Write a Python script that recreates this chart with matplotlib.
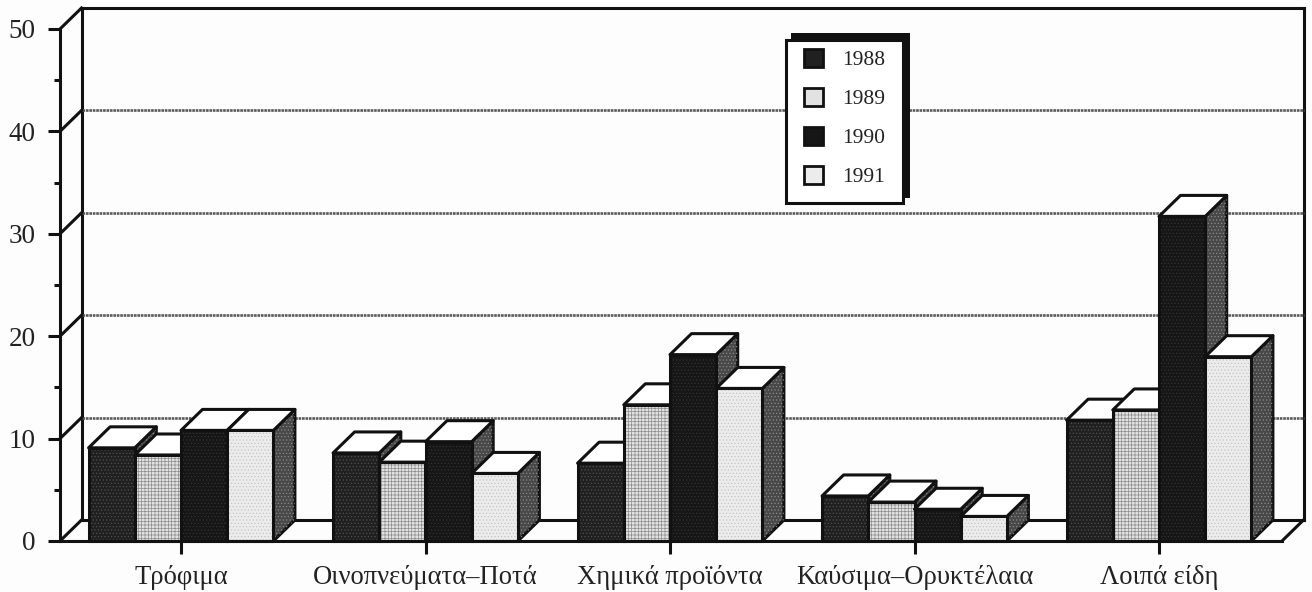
import matplotlib
matplotlib.use('Agg')
import matplotlib.pyplot as plt
from matplotlib.patches import Patch, Polygon, Rectangle

plt.rcParams['font.family'] = ['Liberation Serif', 'DejaVu Serif']
plt.rcParams['hatch.linewidth'] = 0.5

# Values
categories = ['Τρόφιμα', 'Οινοπνεύματα–Ποτά', 'Χημικά προϊόντα', 'Καύσιμα–Ορυκτέλαια', 'Λοιπά είδη']
years = ['1988', '1989', '1990', '1991']
v1988 = [9.1, 8.6, 7.6, 4.4, 11.8]
v1989 = [8.4, 7.7, 13.3, 3.8, 12.8]
v1990 = [10.8, 9.7, 18.2, 3.1, 31.7]
v1991 = [10.8, 6.6, 14.9, 2.4, 18.0]
series = [v1988, v1989, v1990, v1991]

# face colour, hatch colour, hatch for each year
styles = [('#202020', '#505050', '.....'),
          ('#e2e2e2', '#8c8c8c', '+++++'),
          ('#161616', '#333333', '.....'),
          ('#ececec', '#c4c4c4', '.....')]

W, H = 1312, 592
fig = plt.figure(figsize=(W / 100, H / 100), dpi=100, facecolor='#fdfdfd')
ax = fig.add_axes([60 / W, (H - 541) / H, 1222 / W, 512 / H])
ax.patch.set_visible(False)

x_left = (60 - 181) / 244.5
x_right = (1282 - 181) / 244.5
ax.set_xlim(x_left, x_right)
ax.set_ylim(0, 50)

# depth of the 3D box, in data units
dx = 21.5 / 244.5
dy = 2.05
bar_w = 46.2 / 244.5
lw = 2.2

# back wall, floor and gridlines
ax.plot([x_left + dx, x_right + dx], [50 + dy, 50 + dy], color='#111111', lw=lw, clip_on=False)
ax.plot([x_left + dx, x_left + dx], [dy, 50 + dy], color='#111111', lw=lw, clip_on=False)
ax.plot([x_right + dx, x_right + dx], [dy, 50 + dy], color='#111111', lw=lw, clip_on=False)
ax.plot([x_left + dx, x_right + dx], [dy, dy], color='#111111', lw=lw, clip_on=False)
ax.plot([x_right, x_right + dx], [0, dy], color='#111111', lw=lw, clip_on=False)
for v in [10, 20, 30, 40]:
    ax.plot([x_left + dx, x_right + dx], [v + dy, v + dy], color='#5a5a5a', lw=1.9, ls=(0, (1, 0.3)), clip_on=False)
for v in [0, 10, 20, 30, 40, 50]:
    ax.plot([x_left, x_left + dx], [v, v + dy], color='#111111', lw=lw, clip_on=False)

# bars, left to right so that each one covers the side of the previous
z = 5
for c in range(len(categories)):
    for s in range(len(years)):
        h = series[s][c]
        face, hatch_col, hatch = styles[s]
        x0 = c - 2 * bar_w + s * bar_w
        x1 = x0 + bar_w
        side = Polygon([(x1, 0), (x1 + dx, dy), (x1 + dx, h + dy), (x1, h)], closed=True, facecolor='#484848',
                       edgecolor='#111111', lw=lw, joinstyle='round', zorder=z, clip_on=False)
        ax.add_patch(side)
        side_tex = Polygon([(x1, 0), (x1 + dx, dy), (x1 + dx, h + dy), (x1, h)], closed=True, fill=False,
                           edgecolor='#8a8a8a', hatch='.....', lw=0, zorder=z, clip_on=False)
        ax.add_patch(side_tex)
        top = Polygon([(x0, h), (x0 + dx, h + dy), (x1 + dx, h + dy), (x1, h)], closed=True, facecolor='white',
                      edgecolor='#111111', lw=lw, joinstyle='round', zorder=z, clip_on=False)
        ax.add_patch(top)
        ax.bar(x0, h, width=bar_w, align='edge', color=face, edgecolor=hatch_col, hatch=hatch, lw=0, zorder=z,
               clip_on=False)
        ax.bar(x0, h, width=bar_w, align='edge', fill=False, edgecolor='#111111', lw=lw, zorder=z, clip_on=False)
        z += 1

# axes
for name in ['top', 'right']:
    ax.spines[name].set_visible(False)
for name in ['left', 'bottom']:
    ax.spines[name].set_linewidth(lw)
    ax.spines[name].set_color('#111111')
    ax.spines[name].set_zorder(50)

ax.set_yticks([0, 10, 20, 30, 40, 50])
ax.set_yticks([5, 15, 25, 35, 45], minor=True)
ax.set_xticks(range(len(categories)))
ax.set_xticklabels(categories)
ax.tick_params(axis='y', which='major', length=9, width=lw, labelsize=19.5, pad=8.5, color='#111111', labelcolor='#222222')
ax.tick_params(axis='y', which='minor', length=4.5, width=lw, color='#111111')
ax.tick_params(axis='x', which='major', length=9, width=lw, labelsize=19.2, pad=8, color='#111111', labelcolor='#222222')

# legend box, heavy shadow up and to the right
ax.add_patch(Rectangle((791 / W, (H - 198) / H), 119 / W, 165 / H, transform=fig.transFigure,
                       facecolor='#111111', edgecolor='none', zorder=58, clip_on=False))
ax.add_patch(Rectangle((786 / W, (H - 203) / H), 117 / W, 163 / H, transform=fig.transFigure,
                       facecolor='white', edgecolor='#111111', lw=lw, zorder=59, clip_on=False))

handles = []
for s in range(len(years)):
    handles.append(Patch(facecolor=styles[s][0], edgecolor='#111111', lw=2, label=years[s]))
leg = ax.legend(handles=handles, loc='upper left', bbox_to_anchor=(804 / W, (H - 49) / H),
                bbox_transform=fig.transFigure, fontsize=15.5, borderaxespad=0, frameon=False,
                labelspacing=0.82, handlelength=0.9, handleheight=0.9,
                handletextpad=0.85, borderpad=0, labelcolor='#222222')
leg.set_zorder(60)

fig.savefig('out.png', dpi=100, facecolor=fig.get_facecolor())
